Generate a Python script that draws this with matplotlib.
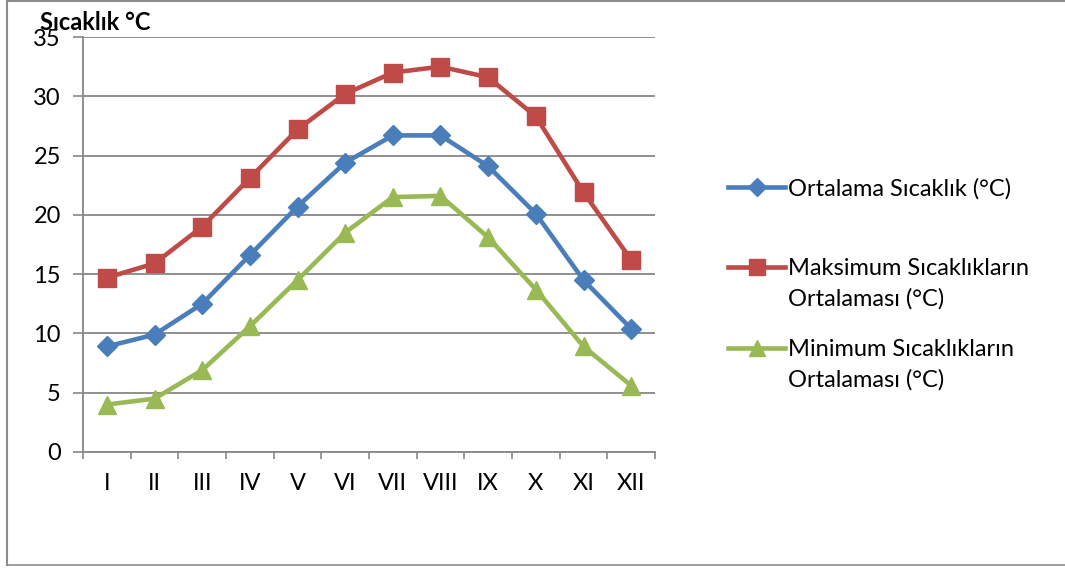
import matplotlib
matplotlib.use("Agg")
import matplotlib.pyplot as plt
from matplotlib.lines import Line2D
import numpy as np

plt.rcParams['font.family'] = ['Lato', 'DejaVu Sans']

months = ["I", "II", "III", "IV", "V", "VI", "VII", "VIII", "IX", "X", "XI", "XII"]
ortalama = [8.9, 9.9, 12.5, 16.6, 20.7, 24.4, 26.7, 26.7, 24.1, 20.1, 14.5, 10.4]
maksimum = [14.7, 15.9, 19.0, 23.1, 27.2, 30.2, 32.0, 32.5, 31.6, 28.3, 21.9, 16.2]
minimum = [4.0, 4.5, 6.9, 10.6, 14.5, 18.5, 21.5, 21.6, 18.1, 13.7, 8.9, 5.6]
y_ticks = [0, 5, 10, 15, 20, 25, 30, 35]

labels = ["Ortalama Sıcaklık (°C)",
          "Maksimum Sıcaklıkların\nOrtalaması (°C)",
          "Minimum Sıcaklıkların\nOrtalaması (°C)"]
colors = ["#4A7EBB", "#BE4B48", "#98B954"]
markers = ["D", "s", "^"]
msizes = [10.5, 13, 13.5]

W, H = 1065, 570
fig = plt.figure(figsize=(W / 100, H / 100), dpi=100)
ax = fig.add_axes([83 / W, 1 - 452 / H, (655 - 83) / W, (452 - 37) / H])

x = np.arange(len(months))
for series, c, m, ms in zip([ortalama, maksimum, minimum], colors, markers, msizes):
    ax.plot(x, series, color=c, lw=3.3, marker=m, markersize=ms,
            markeredgecolor=c, solid_joinstyle='round', zorder=3, clip_on=False)

ax.set_xlim(-0.5, len(months) - 0.5)
ax.set_ylim(0, 35)
ax.set_yticks(y_ticks)
ax.set_yticklabels([str(v) for v in y_ticks], fontsize=17)
ax.set_xticks(x)
ax.set_xticklabels(months, fontsize=17)
ax.set_xticks(np.arange(-0.5, len(months), 1.0), minor=True)
ax.tick_params(axis='x', which='major', length=0, pad=15)
ax.tick_params(axis='x', which='minor', length=5, color='#878787', width=1.2, direction='out')
ax.tick_params(axis='y', length=7, color='#878787', width=1.2, pad=9)

ax.grid(axis='y', color='#878787', lw=1.3)
ax.set_axisbelow(True)
for s in ['top', 'right']:
    ax.spines[s].set_visible(False)
for s in ['left', 'bottom']:
    ax.spines[s].set_color('#878787')
    ax.spines[s].set_linewidth(1.3)

# title
fig.text(40 / W, 1 - 23 / H, "Sıcaklık °C", fontsize=17, fontweight='bold',
         ha='left', va='center')

# legend (manual, marker aligned with first text line)
leg_y = [187, 267, 348]
for lab, c, m, ms, yy in zip(labels, colors, markers, msizes, leg_y):
    yf = 1 - yy / H
    fig.add_artist(Line2D([728 / W, 785 / W], [yf, yf], color=c, lw=3.3,
                          transform=fig.transFigure))
    fig.add_artist(Line2D([756.5 / W], [yf], color=c, marker=m, markersize=ms * 0.9,
                          markeredgecolor=c, transform=fig.transFigure))
    fig.text(788 / W, yf + 9 / H, lab, fontsize=17, ha='left', va='top',
             linespacing=1.52)

# outer frame (left, top, bottom)
frame_c = '#8c8c8c'
fig.add_artist(Line2D([7 / W, 7 / W], [1 - 1 / H, 1 - 565 / H], color=frame_c, lw=1.5,
                      transform=fig.transFigure))
fig.add_artist(Line2D([7 / W, 1.0], [1 - 1 / H, 1 - 1 / H], color=frame_c, lw=1.5,
                      transform=fig.transFigure))
fig.add_artist(Line2D([7 / W, 1.0], [1 - 565 / H, 1 - 565 / H], color=frame_c, lw=1.2,
                      transform=fig.transFigure))

fig.savefig("out.png", dpi=100)
